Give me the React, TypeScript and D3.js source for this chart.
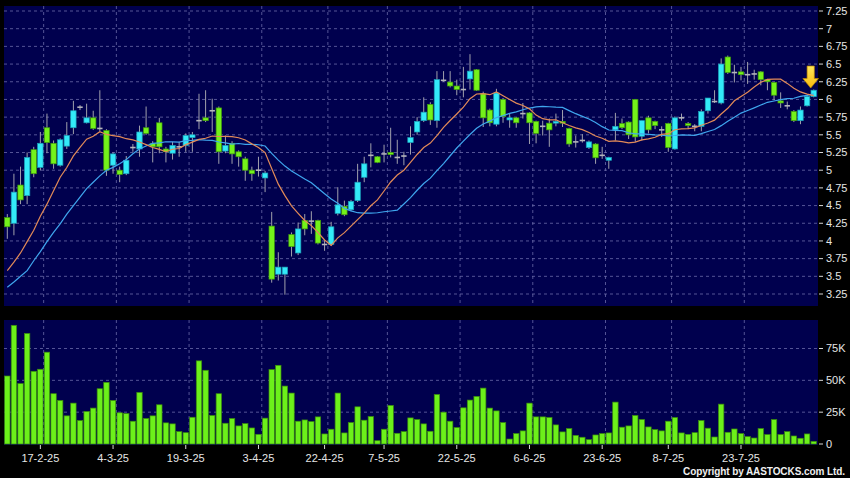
import React from "react";
import * as d3 from "d3";

// ---- Data ----
const dates: string[] = [
  "10-2-25","11-2-25","12-2-25","13-2-25","14-2-25","17-2-25","18-2-25","19-2-25","20-2-25","21-2-25",
  "24-2-25","25-2-25","26-2-25","27-2-25","28-2-25",
  "3-3-25","4-3-25","5-3-25","6-3-25","7-3-25","10-3-25","11-3-25","12-3-25","13-3-25","14-3-25",
  "17-3-25","18-3-25","19-3-25","20-3-25","21-3-25","24-3-25","25-3-25","26-3-25","27-3-25","28-3-25","31-3-25",
  "1-4-25","2-4-25","3-4-25","7-4-25","8-4-25","9-4-25","10-4-25","11-4-25","14-4-25","15-4-25","16-4-25","17-4-25",
  "22-4-25","23-4-25","24-4-25","25-4-25","28-4-25","29-4-25","30-4-25",
  "2-5-25","6-5-25","7-5-25","8-5-25","9-5-25","12-5-25","13-5-25","14-5-25","15-5-25","16-5-25",
  "19-5-25","20-5-25","21-5-25","22-5-25","23-5-25","26-5-25","27-5-25","28-5-25","29-5-25","30-5-25",
  "2-6-25","3-6-25","4-6-25","5-6-25","6-6-25","9-6-25","10-6-25","11-6-25","12-6-25","13-6-25",
  "16-6-25","17-6-25","18-6-25","19-6-25","20-6-25","23-6-25","24-6-25","25-6-25","26-6-25","27-6-25","30-6-25",
  "2-7-25","3-7-25","4-7-25","7-7-25","8-7-25","9-7-25","10-7-25","11-7-25","14-7-25","15-7-25","16-7-25","17-7-25","18-7-25",
  "21-7-25","22-7-25","23-7-25","24-7-25","25-7-25","28-7-25","29-7-25","30-7-25","31-7-25",
  "1-8-25","4-8-25","5-8-25","6-8-25","7-8-25"
];

const opens: number[] = [
  4.33,4.25,4.79,4.64,5.29,5.04,5.60,5.38,5.07,5.34,
  5.60,5.89,5.67,5.74,5.59,5.56,5.07,5.00,4.95,5.32,
  5.30,5.60,5.38,5.67,5.30,5.24,5.33,5.35,5.46,5.70,
  5.74,5.84,5.88,5.27,5.38,5.26,5.16,5.00,5.00,4.89,
  4.21,3.53,3.53,4.09,3.83,4.29,4.28,4.29,3.95,3.95,
  4.39,4.49,4.44,4.57,4.90,5.21,5.19,5.23,5.25,5.18,
  5.20,5.39,5.54,5.70,5.93,5.70,6.27,6.245,6.19,6.14,
  6.29,6.42,6.08,5.85,5.65,6.00,5.71,5.74,5.80,5.81,
  5.69,5.62,5.665,5.665,5.69,5.59,5.40,5.42,5.32,5.37,
  5.21,5.14,5.57,5.66,5.68,6.00,5.48,5.74,5.69,5.57,
  5.66,5.30,5.74,5.66,5.62,5.62,5.84,5.97,5.95,6.60,
  6.38,6.39,6.35,6.36,6.39,6.28,6.24,5.98,5.91,5.83,
  5.70,5.91,6.04
];
const highs: number[] = [
  4.38,4.95,5.05,5.25,5.33,5.54,5.80,5.42,5.45,5.68,
  5.98,5.92,5.94,5.84,6.13,5.58,5.25,5.05,5.20,5.37,
  5.63,5.90,5.41,5.74,5.33,5.40,5.40,5.52,5.54,6.08,
  6.13,6.01,5.90,5.49,5.41,5.28,5.19,5.05,5.19,4.99,
  4.41,3.84,3.63,4.12,4.26,4.38,4.42,4.30,4.01,4.27,
  4.76,4.57,4.58,5.09,5.19,5.38,5.20,5.36,5.60,5.43,
  5.26,5.62,5.75,6.03,5.96,6.40,6.40,6.40,6.28,6.46,
  6.64,6.43,6.11,5.87,6.15,6.02,5.80,5.75,5.95,5.82,
  5.70,5.70,5.73,5.80,5.85,5.60,5.49,5.51,5.42,5.38,
  5.33,5.19,5.81,5.73,5.69,6.00,5.70,5.77,5.70,5.62,
  5.67,5.76,5.80,5.68,5.65,5.86,6.02,6.13,6.58,6.62,
  6.49,6.46,6.53,6.42,6.40,6.29,6.25,6.10,5.97,5.85,
  5.90,6.06,6.14
];
const lows: number[] = [
  4.03,4.08,4.52,4.52,4.90,5.00,5.24,5.02,5.05,5.30,
  5.51,5.85,5.66,5.57,5.55,4.92,4.95,4.83,4.93,5.26,
  5.19,5.50,5.11,5.24,5.11,5.15,5.19,5.26,5.26,5.58,
  5.68,5.54,5.09,5.24,5.09,5.05,4.85,4.85,4.91,4.69,
  3.41,3.44,3.24,3.78,3.80,4.08,4.10,3.95,3.86,3.93,
  4.36,4.35,4.42,4.55,4.83,5.04,5.10,5.11,5.18,5.09,
  5.07,5.22,5.50,5.68,5.64,5.60,6.25,6.17,6.06,6.03,
  6.14,6.12,5.61,5.62,5.62,5.67,5.60,5.60,5.73,5.37,
  5.38,5.49,5.33,5.62,5.61,5.33,5.32,5.39,5.30,5.09,
  5.16,5.02,5.42,5.58,5.44,5.40,5.42,5.52,5.58,5.47,
  5.26,5.29,5.70,5.58,5.55,5.55,5.80,5.95,5.93,6.36,
  6.24,6.27,6.22,6.28,6.20,6.13,5.99,5.88,5.86,5.68,
  5.65,5.90,6.03
];
const closes: number[] = [
  4.20,4.69,4.58,5.18,4.95,5.38,5.39,5.09,5.43,5.49,
  5.84,5.89,5.74,5.59,5.59,5.00,5.23,4.94,5.14,5.32,
  5.54,5.52,5.33,5.33,5.26,5.35,5.33,5.49,5.50,5.70,
  5.70,5.84,5.26,5.35,5.23,5.19,5.00,4.95,5.00,4.96,
  3.46,3.63,3.63,3.92,4.17,4.17,4.28,3.97,3.95,4.20,
  4.51,4.37,4.56,4.83,5.09,5.21,5.11,5.23,5.22,5.18,
  5.20,5.46,5.69,5.82,5.71,6.28,6.27,6.19,6.14,6.14,
  6.40,6.13,5.74,5.67,6.09,5.76,5.74,5.67,5.80,5.67,
  5.52,5.62,5.57,5.69,5.665,5.37,5.40,5.42,5.40,5.175,
  5.21,5.18,5.62,5.60,5.50,5.47,5.70,5.57,5.63,5.57,
  5.32,5.74,5.74,5.63,5.62,5.83,6.02,5.97,6.50,6.38,
  6.38,6.35,6.35,6.36,6.28,6.25,6.06,5.95,5.91,5.70,
  5.85,6.04,6.13
];
// volume in thousands of shares
const volumesK: number[] = [
  53.4,93.2,47.4,86.8,57.1,58.7,72.1,39.5,34.2,22.1,
  32.1,18.4,25.5,28.2,43.4,48.4,34.2,24.5,23.9,17.9,
  40.5,20.0,22.1,30.8,16.6,15.8,9.7,8.9,21.0,65.3,
  57.9,22.4,39.5,16.3,20.0,14.2,16.0,12.6,7.6,20.3,
  58.4,61.8,45.5,40.0,17.9,18.9,17.6,21.3,7.9,11.6,
  40.0,8.7,16.8,29.2,18.7,21.6,2.6,11.6,30.3,8.4,
  9.7,20.5,19.2,15.8,10.0,38.9,25.0,17.9,12.9,28.4,
  34.5,37.4,43.9,28.2,26.0,16.8,3.9,8.2,10.3,32.1,
  21.3,21.3,20.8,15.0,9.5,12.1,6.8,5.3,3.4,7.1,
  8.2,8.7,32.9,13.2,14.2,22.4,19.2,13.4,11.3,10.3,
  17.9,20.8,8.7,7.6,8.9,18.4,12.4,5.5,31.3,9.2,
  11.8,8.2,5.8,4.7,12.1,7.4,19.2,7.4,9.7,6.3,
  4.5,7.9,2.1
];
// moving-average values before a full window exists
const ma10Head: number[] = [3.58,3.70,3.83,3.99,4.15,4.35,4.52,4.71,4.90];
const ma20Head: number[] = [3.345,3.42,3.50,3.58,3.72,3.85,3.99,4.12,4.24,4.38,4.50,4.62,4.74,4.83,4.92,5.00,5.04,5.09,5.15];

const xTickLabels: string[] = ["17-2-25","4-3-25","19-3-25","3-4-25","22-4-25","7-5-25","22-5-25","6-6-25","23-6-25","8-7-25","23-7-25"];
const priceTicks: number[] = [3.25,3.5,3.75,4,4.25,4.5,4.75,5,5.25,5.5,5.75,6,6.25,6.5,6.75,7,7.25];
const volTicks: number[] = [0,25000,50000,75000];
const volTickLabels: string[] = ["0","25K","50K","75K"];

// ---- Layout ----
const W = 850, H = 478;
const L = 4, R = 818;
const pTop = 6, pBot = 306;
const vTop = 320, vBot = 445;
const BG = "#00004e";
const GRID = "#6a6aa8";
const UP = "#33eaf8", UP_S = "#1a9fb8";
const DN = "#74f21a", DN_S = "#3f9a0c";
const FONT = "'Liberation Sans', Arial, sans-serif";

function movingAvg(n: number, head: number[]) {
  return closes.map((_, i) => {
    if (i < n - 1) return head[i];
    const s = d3.sum(closes.slice(i - n + 1, i + 1));
    return s / n;
  });
}

export default function App() {
  const x = d3.scalePoint<string>().domain(dates).range([7.3, 813.7]);
  const step = x.step();
  const yP = d3.scaleLinear().domain([3.25, 7.25]).range([294, 11]);
  const yV = d3.scaleLinear().domain([0, 75000]).range([444, 348.5]);

  const ma10 = movingAvg(10, ma10Head);
  const ma20 = movingAvg(20, ma20Head);
  const lineGen = d3.line<number>().x((_, i) => x(dates[i])!).y((d) => yP(d));

  const bw = 5.4;
  const last = dates.length - 1;
  const ax = x(dates[last])! - 3;
  const tipY = yP(highs[last]) - 1.5;

  return (
    <svg width={W} height={H} style={{ position: "absolute", left: 0, top: 0, display: "block" }}>
      <defs>
        <linearGradient id="arrowG" x1="0" y1="0" x2="0" y2="1">
          <stop offset="0" stopColor="#ffe85a" />
          <stop offset="1" stopColor="#f7b80c" />
        </linearGradient>
        <clipPath id="pclip"><rect x={L} y={pTop} width={R - L} height={pBot - pTop} /></clipPath>
      </defs>
      <rect x={0} y={0} width={W} height={H} fill="#000" />
      <rect x={L} y={pTop} width={R - L} height={pBot - pTop} fill={BG} />
      <rect x={L} y={vTop} width={R - L} height={vBot - vTop} fill={BG} />

      {/* price grid */}
      {priceTicks.map((t) => (
        <line key={"hp" + t} x1={L} x2={R} y1={yP(t)} y2={yP(t)} stroke={GRID} strokeWidth={0.8} strokeDasharray="3,3" />
      ))}
      {volTicks.filter((t) => t > 0).map((t) => (
        <line key={"hv" + t} x1={L} x2={R} y1={yV(t)} y2={yV(t)} stroke={GRID} strokeWidth={0.8} strokeDasharray="3,3" />
      ))}
      {xTickLabels.map((lb) => {
        const gx = x(lb)! + step / 2;
        return (
          <g key={"vg" + lb}>
            <line x1={gx} x2={gx} y1={pTop} y2={pBot} stroke={GRID} strokeWidth={0.8} strokeDasharray="3,3" />
            <line x1={gx} x2={gx} y1={vTop} y2={vBot} stroke={GRID} strokeWidth={0.8} strokeDasharray="3,3" />
          </g>
        );
      })}

      {/* candles */}
      <g clipPath="url(#pclip)">
        {dates.map((d, i) => {
          const cx = x(d)!;
          const o = opens[i], c = closes[i];
          const top = yP(Math.max(o, c)), bot = yP(Math.min(o, c));
          const doji = Math.abs(o - c) < 1e-9;
          const up = c > o;
          return (
            <g key={"c" + i}>
              <line x1={cx} x2={cx} y1={yP(highs[i])} y2={yP(lows[i])} stroke="#a0a0ac" strokeWidth={1} />
              {doji ? (
                <line x1={cx - bw / 2} x2={cx + bw / 2} y1={top} y2={top} stroke="#b4b4bc" strokeWidth={1.6} />
              ) : (
                <rect x={cx - bw / 2} y={top} width={bw} height={Math.max(bot - top, 1.2)}
                  fill={up ? UP : DN} stroke={up ? UP_S : DN_S} strokeWidth={0.7} />
              )}
            </g>
          );
        })}
        <path d={lineGen(ma20) || ""} fill="none" stroke="#3fa6ee" strokeWidth={1.2} />
        <path d={lineGen(ma10) || ""} fill="none" stroke="#e28a58" strokeWidth={1.2} />
      </g>

      {/* arrow marker on last candle */}
      <path
        d={`M${ax - 3.6},${tipY - 22} L${ax + 3.6},${tipY - 22} L${ax + 3.6},${tipY - 9.5} L${ax + 7.8},${tipY - 9.5} L${ax},${tipY} L${ax - 7.8},${tipY - 9.5} L${ax - 3.6},${tipY - 9.5} Z`}
        fill="url(#arrowG)" stroke="#c08a00" strokeWidth={0.7}
      />

      {/* volume bars */}
      {dates.map((d, i) => {
        const cx = x(d)!;
        const yt = yV(volumesK[i] * 1000);
        return (
          <rect key={"v" + i} x={cx - 2.7} y={yt} width={5.4} height={yV(0) - yt}
            fill="#6cf01a" stroke="#3a8c0c" strokeWidth={0.7} />
        );
      })}

      {/* right axis labels */}
      {priceTicks.map((t) => (
        <g key={"pl" + t}>
          <line x1={819} x2={823} y1={yP(t)} y2={yP(t)} stroke="#d8d8d8" strokeWidth={1} />
          <text x={826} y={yP(t)} dy="0.35em" fill="#e6e6e6" fontSize={11} fontFamily={FONT}>{String(t)}</text>
        </g>
      ))}
      {volTicks.map((t, k) => (
        <g key={"vl" + t}>
          <line x1={819} x2={823} y1={yV(t)} y2={yV(t)} stroke="#d8d8d8" strokeWidth={1} />
          <text x={826} y={yV(t)} dy="0.35em" fill="#e6e6e6" fontSize={11} fontFamily={FONT}>{volTickLabels[k]}</text>
        </g>
      ))}

      {/* x axis */}
      {xTickLabels.map((lb) => {
        const tx = x(lb)!;
        return (
          <g key={"xl" + lb}>
            <line x1={tx} x2={tx} y1={vBot} y2={vBot + 4} stroke="#d8d8d8" strokeWidth={1} />
            <text x={tx} y={462} textAnchor="middle" fill="#e6e6e6" fontSize={11} fontFamily={FONT}>{lb}</text>
          </g>
        );
      })}

      <text x={845} y={475} textAnchor="end" fill="#f0f0f0" fontSize={10} fontWeight="bold" fontFamily={FONT}
        textLength={162} lengthAdjust="spacing">Copyright by AASTOCKS.com Ltd.</text>
    </svg>
  );
}
